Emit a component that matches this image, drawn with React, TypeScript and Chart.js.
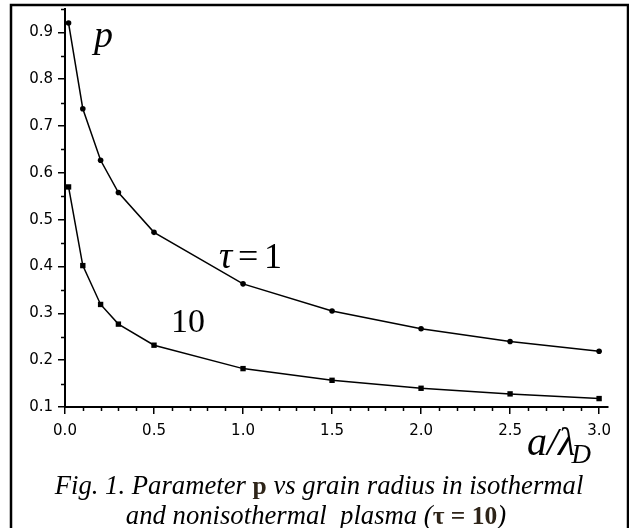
import React, { useEffect, useRef } from "react";
import { Chart, registerables } from "chart.js";

Chart.register(...registerables);

// ---- data ----
const A_OVER_LD = [0.02, 0.1, 0.2, 0.3, 0.5, 1.0, 1.5, 2.0, 2.5, 3.0];
const P_TAU_1 = [0.92, 0.737, 0.627, 0.558, 0.473, 0.363, 0.305, 0.267, 0.240, 0.219];
const P_TAU_10 = [0.57, 0.402, 0.319, 0.277, 0.232, 0.182, 0.157, 0.140, 0.128, 0.118];

const X_TICKS = [0, 0.5, 1.0, 1.5, 2.0, 2.5, 3.0];
const Y_TICKS = [0.1, 0.2, 0.3, 0.4, 0.5, 0.6, 0.7, 0.8, 0.9];
const X_MINOR_STEP = 0.1;
const Y_MINOR_STEP = 0.05;

const X_MIN = 0;
const X_MAX = 3.05;
const Y_MIN = 0.1;
const Y_MAX = 0.95;

const SERIF = '"Liberation Serif", "Times New Roman", serif';
const TICK_FONT = '"DejaVu Sans", "Liberation Sans", Arial, sans-serif';

export default function App() {
  const ref = useRef<HTMLCanvasElement>(null);

  useEffect(() => {
    const canvas = ref.current;
    if (!canvas) return;

    const drawSegments = (
      ctx: CanvasRenderingContext2D,
      segs: { t: string; f: string; c: string }[],
      cx: number,
      y: number
    ) => {
      let total = 0;
      for (const s of segs) {
        ctx.font = s.f;
        total += ctx.measureText(s.t).width;
      }
      let x = cx - total / 2;
      for (const s of segs) {
        ctx.font = s.f;
        ctx.fillStyle = s.c;
        ctx.fillText(s.t, x, y);
        x += ctx.measureText(s.t).width;
      }
    };

    const decor = {
      id: "decor",
      afterDraw(chart: any) {
        const ctx: CanvasRenderingContext2D = chart.ctx;
        const xs = chart.scales.x;
        const ys = chart.scales.y;
        ctx.save();
        // minor ticks
        ctx.strokeStyle = "#000";
        ctx.lineWidth = 1.5;
        ctx.beginPath();
        const nX = Math.round((X_MAX - X_MIN) / X_MINOR_STEP);
        for (let i = 0; i <= nX; i++) {
          const v = X_MIN + i * X_MINOR_STEP;
          if (X_TICKS.some((t) => Math.abs(t - v) < 1e-6)) continue;
          if (v > 3.0 + 1e-6) continue;
          const px = Math.round(xs.getPixelForValue(v)) + 0.5;
          ctx.moveTo(px, xs.top);
          ctx.lineTo(px, xs.top + 4);
        }
        const nY = Math.round((Y_MAX - Y_MIN) / Y_MINOR_STEP);
        for (let i = 0; i <= nY; i++) {
          const v = Y_MIN + i * Y_MINOR_STEP;
          if (Y_TICKS.some((t) => Math.abs(t - v) < 1e-6)) continue;
          const py = Math.round(ys.getPixelForValue(v)) + 0.5;
          ctx.moveTo(ys.right, py);
          ctx.lineTo(ys.right - 4, py);
        }
        ctx.stroke();

        // frame
        ctx.lineWidth = 2.5;
        ctx.strokeRect(11, 5, 617, 600);

        // annotations
        ctx.fillStyle = "#000";
        ctx.textBaseline = "alphabetic";
        ctx.textAlign = "left";
        ctx.font = `italic 38px ${SERIF}`;
        ctx.fillText("p", 94, 47);

        ctx.font = `italic 37px ${SERIF}`;
        ctx.fillText("\u03c4", 219, 268);
        ctx.font = `36px ${SERIF}`;
        ctx.fillText("=", 238, 268);
        ctx.fillText("1", 264, 268);

        ctx.font = `34px ${SERIF}`;
        ctx.fillText("10", 171, 332);

        ctx.font = `italic 40px ${SERIF}`;
        ctx.fillText("a/\u03bb", 527, 455);
        const w = ctx.measureText("a/\u03bb").width;
        ctx.font = `italic 27px ${SERIF}`;
        ctx.fillText("D", 527 + w - 4, 463);

        // caption
        const it = `italic 26.7px ${SERIF}`;
        const bd = `bold 25.5px ${SERIF}`;
        const bc = "#2e2418";
        drawSegments(
          ctx,
          [
            { t: "Fig. 1. Parameter ", f: it, c: "#000" },
            { t: "p", f: bd, c: bc },
            { t: " vs grain radius in isothermal", f: it, c: "#000" },
          ],
          319,
          494
        );
        drawSegments(
          ctx,
          [
            { t: "and nonisothermal  plasma (", f: it, c: "#000" },
            { t: "\u03c4 = 10", f: bd, c: bc },
            { t: ")", f: it, c: "#000" },
          ],
          316,
          524
        );
        ctx.restore();
      },
    };

    const chart = new Chart(canvas, {
      type: "line",
      data: {
        datasets: [
          {
            label: "tau = 1",
            data: A_OVER_LD.map((x, i) => ({ x, y: P_TAU_1[i] })),
            borderColor: "#000",
            backgroundColor: "#000",
            borderWidth: 1.5,
            pointStyle: "circle",
            pointRadius: 2.8,
            pointBorderWidth: 0,
            pointBackgroundColor: "#000",
            tension: 0,
            fill: false,
          },
          {
            label: "tau = 10",
            data: A_OVER_LD.map((x, i) => ({ x, y: P_TAU_10[i] })),
            borderColor: "#000",
            backgroundColor: "#000",
            borderWidth: 1.5,
            pointStyle: "rect",
            pointRadius: 3.8,
            pointBorderWidth: 0,
            pointBackgroundColor: "#000",
            tension: 0,
            fill: false,
          },
        ],
      },
      options: {
        responsive: false,
        animation: false,
        devicePixelRatio: 1,
        layout: { padding: { top: 9, right: 21, left: 0, bottom: 0 } },
        plugins: {
          legend: { display: false },
          tooltip: { enabled: false },
          title: { display: false },
        },
        scales: {
          x: {
            type: "linear",
            min: X_MIN,
            max: X_MAX,
            afterBuildTicks: (s: any) => {
              s.ticks = X_TICKS.map((v) => ({ value: v }));
            },
            afterFit: (s: any) => {
              s.height = 121;
              s.paddingLeft = 0;
              s.paddingRight = 0;
            },
            grid: {
              drawOnChartArea: false,
              drawTicks: true,
              tickLength: 7,
              color: "#000",
              lineWidth: 1.5,
            },
            border: { display: true, color: "#000", width: 2 },
            ticks: {
              color: "#000",
              font: { family: TICK_FONT, size: 15 },
              padding: 8,
              maxRotation: 0,
              autoSkip: false,
              callback: (v: any) => Number(v).toFixed(1),
            },
          },
          y: {
            type: "linear",
            min: Y_MIN,
            max: Y_MAX,
            afterBuildTicks: (s: any) => {
              s.ticks = Y_TICKS.map((v) => ({ value: v }));
            },
            afterFit: (s: any) => {
              s.width = 65;
              s.paddingTop = 0;
              s.paddingBottom = 0;
            },
            grid: {
              drawOnChartArea: false,
              drawTicks: true,
              tickLength: 7,
              color: "#000",
              lineWidth: 1.5,
            },
            border: { display: true, color: "#000", width: 2 },
            ticks: {
              color: "#000",
              font: { family: TICK_FONT, size: 15 },
              padding: 5,
              autoSkip: false,
              callback: (v: any) => Number(v).toFixed(1),
            },
          },
        },
      },
      plugins: [decor],
    } as any);

    return () => chart.destroy();
  }, []);

  return (
    <div
      style={{
        position: "fixed",
        left: 0,
        top: 0,
        width: 629,
        height: 528,
        background: "#fff",
      }}
    >
      <canvas ref={ref} width={629} height={528} style={{ display: "block" }} />
    </div>
  );
}
